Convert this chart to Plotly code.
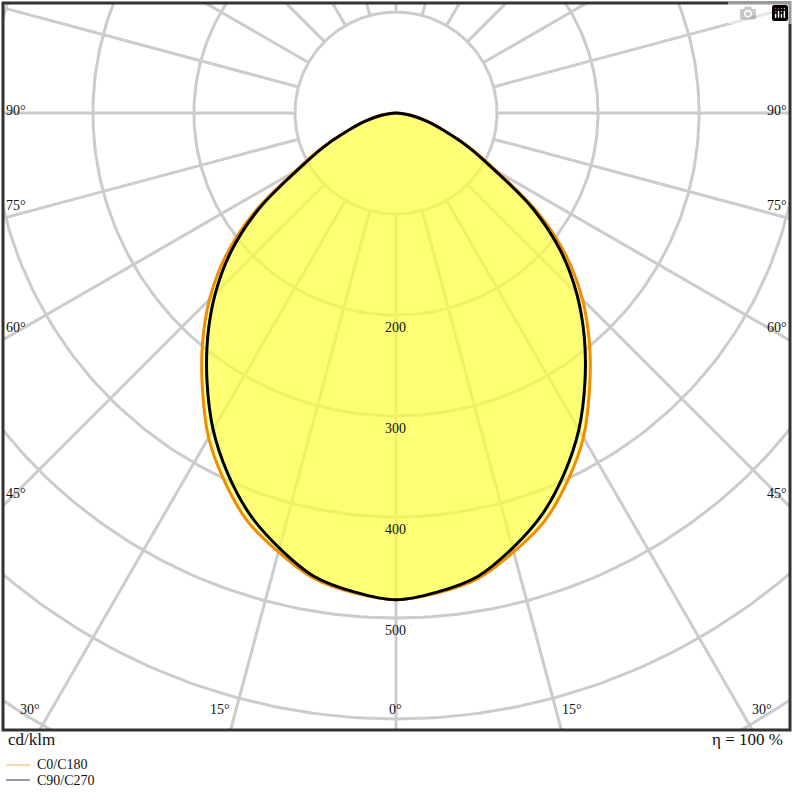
import numpy as np
import plotly.graph_objects as go

angles = [0, 5, 10, 15, 20, 25, 30, 35, 40, 45, 50, 55, 60, 65, 70, 75, 80, 85, 90]
c90_c270 = [482, 476, 466, 446, 423, 394, 362, 326, 290, 253, 213, 166, 112, 78, 50, 32, 18, 7, 0]
c0_c180 = [482, 477, 468, 450, 430, 402, 371, 334, 298, 261, 220, 171, 115, 80, 51, 33, 18, 7, 0]
ring_values = [100, 200, 300, 400, 500, 600, 700]
ring_labels = [200, 300, 400, 500]
side_labels = [90, 75, 60, 45]
bottom_labels = [30, 15, 0]

XR = [-389, 390]
YR = [-611, 109]

def xy(r, deg):
    t = np.radians(deg)
    return r * np.sin(t), -r * np.cos(t)

fig = go.Figure()
grid = dict(color="#cccccc", width=3)
tt = np.linspace(0, 360, 361)
for rv in ring_values:
    x, y = xy(rv, tt)
    fig.add_trace(go.Scatter(x=x, y=y, mode="lines", line=grid, hoverinfo="skip", showlegend=False))
for a in range(0, 360, 15):
    x, y = xy(np.array([100, 900]), a)
    fig.add_trace(go.Scatter(x=x, y=y, mode="lines", line=grid, hoverinfo="skip", showlegend=False))

def loop(vals):
    a = np.array(angles, float); v = np.array(vals, float)
    deg = np.concatenate([a, -a[::-1][1:]])
    r = np.concatenate([v, v[::-1][1:]])
    return xy(r, deg)

for vals in [c0_c180, c90_c270]:
    x, y = loop(vals)
    fig.add_trace(go.Scatter(x=x, y=y, mode="lines", fill="toself",
                             fillcolor="rgba(255,255,60,0.45)", line=dict(width=0, shape="spline"),
                             hoverinfo="skip", showlegend=False))
for vals, col in [(c0_c180, "#f28c00"), (c90_c270, "#000000")]:
    x, y = loop(vals)
    fig.add_trace(go.Scatter(x=x, y=y, mode="lines", line=dict(color=col, width=3, shape="spline"),
                             hoverinfo="skip", showlegend=False))

font = dict(family="Liberation Serif", size=14, color="#111")
ann = []
for v in ring_labels:
    ann.append(dict(x=0, y=-v * 1.0 - 3, text=str(v), showarrow=False, yanchor="top", font=font))
for a in side_labels:
    yv = -(389 / np.tan(np.radians(a))) if a != 90 else 0
    for xv, anc in [(XR[0] + 1, "left"), (XR[1] - 1, "right")]:
        ann.append(dict(x=xv, y=yv + 3, text=f"{a}°", showarrow=False, xanchor=anc,
                        yanchor="bottom" if a != 90 else "middle", font=font))
for a in bottom_labels:
    xv = 611 * np.tan(np.radians(a))
    for s in ([-1, 1] if a else [1]):
        ann.append(dict(x=s * xv + (s * 10 if a else 0), y=YR[0] + 20, text=f"{a}°", showarrow=False,
                        yanchor="middle", xanchor="center", font=font))

def py(p):
    return (730 - p) / 727
def px(p):
    return (p - 3) / 787
big = dict(family="Liberation Serif", size=17, color="#111")
ann.append(dict(xref="paper", yref="paper", x=px(6), y=py(739), text="cd/klm", showarrow=False,
                xanchor="left", yanchor="middle", font=big))
ann.append(dict(xref="paper", yref="paper", x=px(785), y=py(739), text="η = 100 %", showarrow=False,
                xanchor="right", yanchor="middle", font=big))
ann.append(dict(xref="paper", yref="paper", x=px(35), y=py(765), text="C0/C180", showarrow=False,
                xanchor="left", yanchor="middle", font=font))
ann.append(dict(xref="paper", yref="paper", x=px(35), y=py(780), text="C90/C270", showarrow=False,
                xanchor="left", yanchor="middle", font=font))
shapes = [
    dict(type="line", xref="paper", yref="paper", x0=px(6), x1=px(30), y0=py(765), y1=py(765),
         line=dict(color="#f5c88a", width=1.5)),
    dict(type="line", xref="paper", yref="paper", x0=px(6), x1=px(30), y0=py(780), y1=py(780),
         line=dict(color="#777777", width=1.5)),
    dict(type="rect", xref="paper", yref="paper", x0=0, x1=1, y0=0, y1=1,
         line=dict(color="#333333", width=3)),
]

fig.update_layout(width=794, height=800, margin=dict(l=3, r=4, t=3, b=70),
                  paper_bgcolor="white", plot_bgcolor="white",
                  xaxis=dict(range=XR, visible=False, fixedrange=True),
                  yaxis=dict(range=YR, visible=False, fixedrange=True),
                  annotations=ann, shapes=shapes)
fig.write_html("out.html", post_script="document.body.style.margin='0';document.body.style.overflow='hidden';")
